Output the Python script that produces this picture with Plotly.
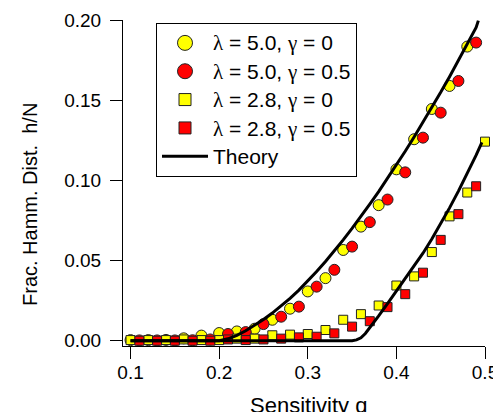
import plotly.graph_objects as go

# ---- data ----
q_even = [0.10, 0.12, 0.14, 0.16, 0.18, 0.20, 0.22, 0.24, 0.26, 0.28, 0.30,
          0.32, 0.34, 0.36, 0.38, 0.40, 0.42, 0.44, 0.46, 0.48]
q_odd = [0.11, 0.13, 0.15, 0.17, 0.19, 0.21, 0.23, 0.25, 0.27, 0.29, 0.31,
         0.33, 0.35, 0.37, 0.39, 0.41, 0.43, 0.45, 0.47, 0.49]

h_l50_g0 = [0.0004, 0.0004, 0.0005, 0.0015, 0.0032, 0.0048, 0.0058, 0.0075, 0.0131, 0.0200,
            0.0308, 0.0391, 0.0567, 0.0713, 0.0847, 0.1071, 0.1259, 0.1448, 0.1592, 0.1838]
h_l50_g05 = [0.0002, 0.0002, 0.0002, 0.0003, 0.0008, 0.0042, 0.0054, 0.0104, 0.0150, 0.0213,
             0.0338, 0.0443, 0.0588, 0.0741, 0.0882, 0.1052, 0.1269, 0.1425, 0.1623, 0.1863]

q_sq_y = q_even + [0.50]
h_l28_g0 = [0.0004, 0.0004, 0.0004, 0.0008, 0.0004, 0.0004, 0.0013, 0.0013, 0.0034, 0.0038,
            0.0042, 0.0067, 0.0131, 0.0166, 0.0220, 0.0345, 0.0402, 0.0554, 0.0777, 0.0926, 0.1244]
h_l28_g05 = [0.0000, 0.0000, 0.0000, 0.0000, 0.0000, 0.0008, 0.0004, 0.0008, 0.0013, 0.0021,
             0.0025, 0.0046, 0.0088, 0.0122, 0.0210, 0.0291, 0.0425, 0.0630, 0.0791, 0.0965]

q_th50 = [0.10, 0.20, 0.21, 0.22, 0.23, 0.24, 0.25, 0.26, 0.27, 0.28, 0.29, 0.30, 0.31, 0.32,
          0.33, 0.34, 0.35, 0.36, 0.37, 0.38, 0.39, 0.40, 0.41, 0.42, 0.43, 0.44, 0.45, 0.46,
          0.47, 0.48, 0.49, 0.4925]
h_th50 = [0.0, 0.0, 0.0012, 0.0033, 0.0062, 0.0096, 0.0133, 0.0173, 0.0218, 0.0265, 0.0316,
          0.0372, 0.0432, 0.0495, 0.0561, 0.0630, 0.0702, 0.0776, 0.0853, 0.0932, 0.1014,
          0.1098, 0.1184, 0.1273, 0.1364, 0.1457, 0.1552, 0.1650, 0.1750, 0.1853, 0.1958, 0.2000]

q_th28 = [0.10, 0.35, 0.355, 0.36, 0.365, 0.37, 0.38, 0.39, 0.40, 0.41, 0.42, 0.43, 0.44,
          0.45, 0.46, 0.47, 0.48, 0.49, 0.4965]
h_th28 = [0.0, 0.0, 0.0005, 0.0018, 0.0045, 0.0080, 0.0155, 0.0232, 0.0310, 0.0387, 0.0466,
          0.0547, 0.0635, 0.0730, 0.0830, 0.0935, 0.1045, 0.1160, 0.1240]

x_ticks = [0.1, 0.2, 0.3, 0.4, 0.5]
x_tick_text = ["0.1", "0.2", "0.3", "0.4", "0.5"]
y_ticks = [0.00, 0.05, 0.10, 0.15, 0.20]
y_tick_text = ["0.00", "0.05", "0.10", "0.15", "0.20"]

series_labels = [("5.0", "0"), ("5.0", "0.5"), ("2.8", "0"), ("2.8", "0.5")]

FONT = "Liberation Sans, Arial, sans-serif"
GREEK = "Liberation Serif, serif"


def greek(ch):
    return f'<span style="font-family:{GREEK}">{ch}</span>'


def series_name(lam, gam):
    return (f'<span style="font-size:21px">{greek("λ")} = {lam}, '
            f'{greek("γ")} = {gam}</span>')


# The page body has an 8px default margin: the figure is sized to fill the rest.
W, H = 493, 404
PL, PR, PT, PB = 115, 477, 12, 338  # plot area in figure pixels
PW, PH = PR - PL, PB - PT

mk_line = dict(color="#222222", width=1)
styles = [("circle", "#FFFF00"), ("circle", "#FF0000"), ("square", "#FFFF00"), ("square", "#FF0000")]
xs = [q_even, q_odd, q_sq_y, q_odd]
ys = [h_l50_g0, h_l50_g05, h_l28_g0, h_l28_g05]

fig = go.Figure()
# data markers
for (sym, col), xv, yv, (lam, gam) in zip(styles, xs, ys, series_labels):
    fig.add_trace(go.Scatter(x=xv, y=yv, mode="markers", name=series_name(lam, gam),
                             showlegend=False, legendgroup=f"{lam}-{gam}",
                             marker=dict(symbol=sym, size=11 if sym == "circle" else 9,
                                         color=col, line=mk_line),
                             cliponaxis=False))
# legend entries (larger symbols, as in the original legend)
for (sym, col), (lam, gam) in zip(styles, series_labels):
    fig.add_trace(go.Scatter(x=[None], y=[None], mode="markers", name=series_name(lam, gam),
                             legendgroup=f"{lam}-{gam}",
                             marker=dict(symbol=sym, size=15 if sym == "circle" else 12,
                                         color=col, line=mk_line)))
fig.add_trace(go.Scatter(x=q_th50 + [None] + q_th28, y=h_th50 + [None] + h_th28,
                         mode="lines", name='<span style="font-size:21px">Theory</span>',
                         connectgaps=False,
                         line=dict(color="black", width=3), cliponaxis=False))


def px_x(sx):
    return (sx - 8 - PL) / PW


def px_y(sy):
    return (PB - (sy - 8)) / PH


fig.update_layout(
    template="none",
    width=W, height=H,
    margin=dict(l=PL, r=W - PR, t=PT, b=H - PB, pad=0, autoexpand=False),
    paper_bgcolor="white", plot_bgcolor="white",
    font=dict(family=FONT, size=19, color="black"),
    showlegend=True,
    legend=dict(x=px_x(156), y=px_y(22.7), xanchor="left", yanchor="top",
                bgcolor="white", bordercolor="black", borderwidth=1,
                font=dict(family=FONT, size=19.5, color="black"),
                itemwidth=46, tracegroupgap=0, groupclick="togglegroup"),
)
fig.update_xaxes(range=[0.0915, 0.5], tickvals=x_ticks, ticktext=x_tick_text, automargin=False,
                 showgrid=False, zeroline=False, showline=True, linecolor="black", linewidth=1,
                 ticks="outside", ticklen=12, tickcolor="black", tickwidth=1,
                 ticklabelstandoff=-3,
                 tickfont=dict(family=FONT, size=19, color="black"))
fig.update_yaxes(range=[-0.0033, 0.2004], tickvals=y_ticks, ticktext=y_tick_text, automargin=False,
                 showgrid=False, zeroline=False, showline=True, linecolor="black", linewidth=1,
                 ticks="outside", ticklen=12, tickcolor="black", tickwidth=1,
                 ticklabelstandoff=5,
                 tickfont=dict(family=FONT, size=19, color="black"))

fig.add_annotation(text="Sensitivity q", xref="paper", yref="paper",
                   x=px_x(308.5), y=px_y(405), xanchor="center", yanchor="middle",
                   showarrow=False, font=dict(family=FONT, size=22, color="black"))
fig.add_annotation(text="Frac. Hamm. Dist.  h/N", xref="paper", yref="paper",
                   x=px_x(30), y=px_y(205), xanchor="center", yanchor="middle",
                   textangle=-90, showarrow=False, font=dict(family=FONT, size=20, color="black"))

fig.write_html("out.html")
